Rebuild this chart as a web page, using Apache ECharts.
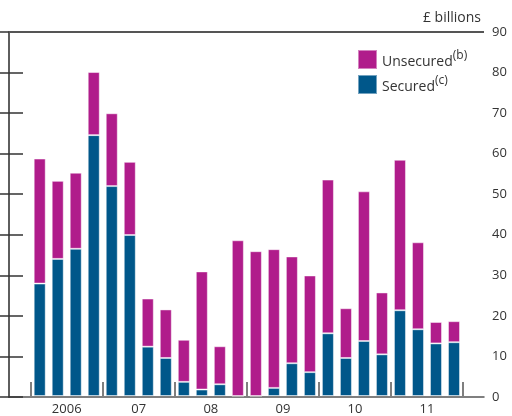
<!DOCTYPE html>
<html>
<head>
<meta charset="utf-8">
<script src="https://cdn.jsdelivr.net/npm/echarts@6/dist/echarts.min.js"></script>
<style>
  html, body { margin: 0; padding: 0; background: #fff; }
  #chart { width: 512px; height: 416px; }
</style>
</head>
<body>
<div id="chart"></div>
<script>
// 按季度, 2006 Q1 - 2011 Q4
const years = ["2006", "07", "08", "09", "10", "11"];
const quarters = ["06Q1", "06Q2", "06Q3", "06Q4", "07Q1", "07Q2", "07Q3", "07Q4",
  "08Q1", "08Q2", "08Q3", "08Q4", "09Q1", "09Q2", "09Q3", "09Q4",
  "10Q1", "10Q2", "10Q3", "10Q4", "11Q1", "11Q2", "11Q3", "11Q4"];
const secured = [27.8, 33.9, 36.4, 64.5, 51.9, 39.8, 12.2, 9.4, 3.5, 1.6, 2.9, 0,
  0, 2.0, 8.1, 5.9, 15.5, 9.4, 13.6, 10.3, 21.2, 16.5, 13.0, 13.3];
const unsecured = [30.9, 19.3, 18.8, 15.6, 18.0, 18.1, 11.9, 12.0, 10.4, 29.2, 9.4, 38.5,
  35.8, 34.3, 26.4, 23.9, 38.0, 12.3, 37.0, 15.3, 37.2, 21.5, 5.3, 5.2];

const txt = "#333";
const line = "#555";
const font = "Open Sans";

const chart = echarts.init(document.getElementById("chart"));
chart.setOption({
  animation: false,
  textStyle: { fontFamily: font },
  grid: [
    // 外框 + 右侧刻度
    { left: 9, right: 28, top: 32, bottom: 19 },
    // 柱子区域
    { left: 30.7, right: 49, top: 32, bottom: 19 },
  ],
  title: {
    text: "£ billions",
    right: 26,
    top: 6,
    textStyle: { fontSize: 14, fontWeight: "normal", color: txt, fontFamily: font },
  },
  legend: {
    data: ["Unsecured", "Secured"],
    orient: "vertical",
    left: 352,
    top: 44,
    itemWidth: 19,
    itemHeight: 19,
    itemGap: 4,
    icon: "rect",
    formatter: (n) => n === "Unsecured" ? "{a|Unsecured}{s|(b)}" : "{a|Secured}{s|(c)}",
    textStyle: {
      color: txt,
      rich: {
        a: { fontSize: 14, color: txt, fontFamily: font, verticalAlign: "bottom", lineHeight: 19 },
        s: { fontSize: 12, color: txt, fontFamily: font, verticalAlign: "top", padding: [0, 0, 8, 0] },
      },
    },
  },
  xAxis: [
    // 下边框
    {
      gridIndex: 0, type: "value", min: 0, max: 1, position: "bottom",
      axisLine: { show: true, onZero: false, lineStyle: { color: line, width: 1.5 } },
      axisTick: { show: false }, axisLabel: { show: false }, splitLine: { show: false },
    },
    { gridIndex: 1, type: "category", data: quarters, show: false },
    {
      gridIndex: 1,
      type: "category",
      data: years,
      position: "bottom",
      axisLine: { show: false },
      axisTick: { show: true, inside: true, length: 14, lineStyle: { color: line, width: 1.5 } },
      axisLabel: { color: txt, fontSize: 13, margin: 7 },
    },
  ],
  yAxis: [
    {
      gridIndex: 0,
      type: "value",
      position: "right",
      min: 0,
      max: 90,
      interval: 10,
      axisLine: { show: true, lineStyle: { color: line, width: 1.5 } },
      axisTick: { show: true, inside: true, length: 13, lineStyle: { color: "#333", width: 1.5 } },
      axisLabel: { color: txt, fontSize: 13, margin: 8 },
      splitLine: { show: false },
    },
    {
      gridIndex: 0,
      type: "value",
      position: "left",
      min: 0,
      max: 90,
      interval: 10,
      axisLine: { show: true, lineStyle: { color: line, width: 1.5 } },
      axisTick: { show: true, inside: true, length: 14, lineStyle: { color: "#333", width: 1.5 } },
      axisLabel: { show: false },
      splitLine: { show: false },
    },
    { gridIndex: 1, type: "value", min: 0, max: 90, interval: 10, show: false },
  ],
  series: [
    {
      name: "Secured",
      type: "bar",
      stack: "total",
      xAxisIndex: 1,
      yAxisIndex: 2,
      barWidth: 12,
      data: secured,
      itemStyle: { color: "#00578a", borderColor: "rgba(255,255,255,0.45)", borderWidth: 1 },
    },
    {
      name: "Unsecured",
      type: "bar",
      stack: "total",
      xAxisIndex: 1,
      yAxisIndex: 2,
      barWidth: 12,
      data: unsecured,
      itemStyle: { color: "#b01c8b", borderColor: "rgba(255,255,255,0.45)", borderWidth: 1 },
    },
  ],
});

// 上边框
chart.setOption({
  graphic: [
    { type: "rect", shape: { x: 0, y: 0, width: 475, height: 2 }, x: 9, y: 31, style: { fill: line }, z: 100 },
  ],
});
</script>
</body>
</html>
